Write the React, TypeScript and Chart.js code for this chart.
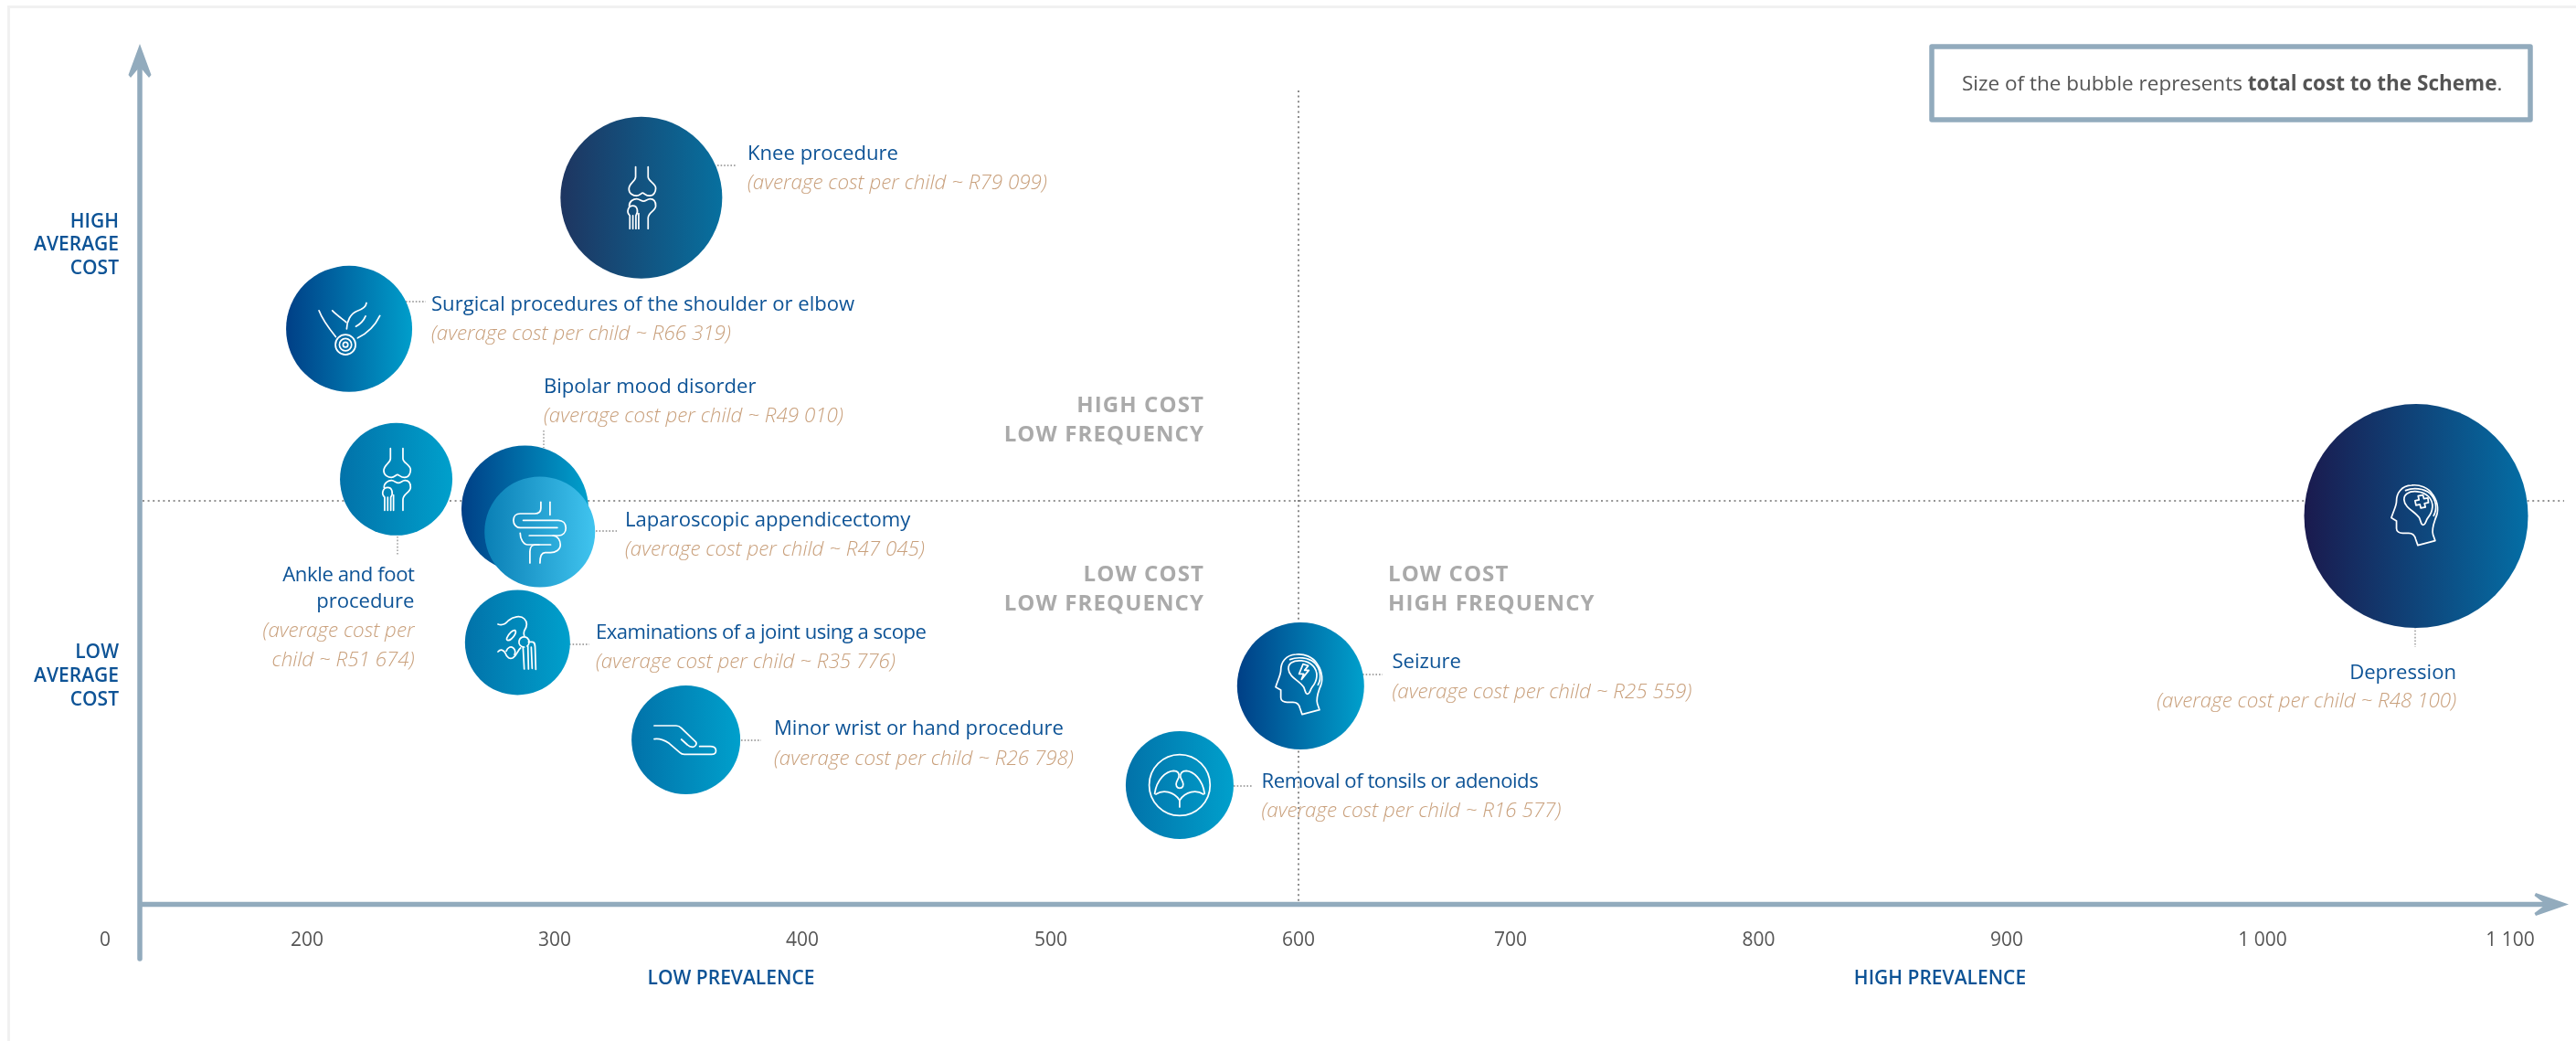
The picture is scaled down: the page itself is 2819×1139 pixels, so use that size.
import React, { useEffect, useRef } from "react";
import { Chart, LinearScale, BubbleController, PointElement } from "chart.js";

// ---- data ----
const procedures = [
  "Knee procedure",
  "Surgical procedures of the shoulder or elbow",
  "Ankle and foot procedure",
  "Bipolar mood disorder",
  "Laparoscopic appendicectomy",
  "Examinations of a joint using a scope",
  "Minor wrist or hand procedure",
  "Seizure",
  "Removal of tonsils or adenoids",
  "Depression",
];
const costTexts = ["R79 099", "R66 319", "R51 674", "R49 010", "R47 045", "R35 776", "R26 798", "R25 559", "R16 577", "R48 100"];
const prevalence = [335, 217, 236, 288, 294, 285, 353, 601, 552, 1062];
const averageCost = [79099, 66319, 51674, 48770, 46545, 35776, 26298, 31548, 21892, 48100];
const bubbleRadius = [88.5, 69, 61.5, 69.5, 60.5, 57.5, 59.5, 69.5, 59, 122.5];
const xTickValues = [0, 200, 300, 400, 500, 600, 700, 800, 900, 1000, 1100];
const medianPrevalence = 600;
const medianCost = 49571;

// ---- layout ----
const W = 2819;
const H = 1139;
const AXIS_Y = 989.5;
const AXIS_X = 153;
const Y_MIN = 35776 - (AXIS_Y - 703) * 89;
const Y_MAX = 35776 + 703 * 89;
const X_TICK_PIXELS = [115, 336, 607, 878, 1150, 1421, 1653, 1924.5, 2196, 2476, 2747];

const AXIS_COLOR = "#92abbd";
const NAME_COLOR = "#0d5396";
const COST_COLOR = "#c9a07c";
const GREY_TEXT = "#aaaaaa";
const BODY_TEXT = "#555555";
const FONT = '"Open Sans"';

const gradients: [string, string][] = [
  ["#1e3560", "#07709f"],
  ["#003f86", "#009ecb"],
  ["#0272a9", "#00a0cc"],
  ["#003f86", "#00a0cc"],
  ["#0a7fb5", "#40c4ef"],
  ["#0272a9", "#00a0cc"],
  ["#0272a9", "#00a0cc"],
  ["#003f86", "#00a0cc"],
  ["#0272a9", "#00a0cc"],
  ["#1a1a4e", "#046ea5"],
];

type TextBlock = { align: CanvasTextAlign; x: number; lines: { t: string; y: number; cost?: boolean; ls?: number }[] };
const cost = (i: number) => `(average cost per child ~ ${costTexts[i]})`;
const textBlocks: TextBlock[] = [
  { align: "left", x: 818, lines: [{ t: procedures[0], y: 169 }, { t: cost(0), y: 201, cost: true }] },
  { align: "left", x: 472, lines: [{ t: procedures[1], y: 334 }, { t: cost(1), y: 366, cost: true }] },
  { align: "right", x: 453.5, lines: [{ t: "Ankle and foot", y: 630, ls: -0.4 }, { t: "procedure", y: 659 }, { t: "(average cost per", y: 691, cost: true }, { t: `child ~ ${costTexts[2]})`, y: 723, cost: true }] },
  { align: "left", x: 595, lines: [{ t: procedures[3], y: 424 }, { t: cost(3), y: 456, cost: true }] },
  { align: "left", x: 684, lines: [{ t: procedures[4], y: 570 }, { t: cost(4), y: 602, cost: true }] },
  { align: "left", x: 652, lines: [{ t: procedures[5], y: 693, ls: -0.5 }, { t: cost(5), y: 725, cost: true }] },
  { align: "left", x: 847, lines: [{ t: procedures[6], y: 798 }, { t: cost(6), y: 830.5, cost: true }] },
  { align: "left", x: 1523.5, lines: [{ t: procedures[7], y: 725 }, { t: cost(7), y: 758, cost: true }] },
  { align: "left", x: 1380.5, lines: [{ t: procedures[8], y: 855.5, ls: -0.45 }, { t: cost(8), y: 888, cost: true }] },
  { align: "right", x: 2688, lines: [{ t: procedures[9], y: 736.5 }, { t: cost(9), y: 768, cost: true }] },
];

const leaders = [
  [785, 181, 805, 181],
  [444, 330, 466, 330],
  [435, 587, 435, 607],
  [595, 471, 595, 490],
  [652, 581, 675, 581],
  [623, 705, 645, 705],
  [811, 810, 833, 810],
  [1491, 738, 1513, 738],
  [1350, 860, 1371, 860],
  [2643, 686, 2643, 708],
];

// ---- icons, written in 3x crop units about the crop's corner ----
const KNEE = [
  "M142 52 V85 C142 100 120 105 120 125 C120 140 135 147 145 147 C155 147 160 138 165 138 C170 138 175 147 188 147 C203 147 208 132 208 122 C208 105 183 100 183 85 V52",
  "M121 180 C121 165 135 157 145 157 C155 157 160 165 168 165 C176 165 180 157 190 157 C205 157 208 170 208 180 C208 197 183 200 183 220 V255",
  "M123 255 V212 C110 200 118 180 133 180 C148 180 152 200 143 212 V255",
  "M133 212 V255",
  "M152 205 V255",
];
const SHOULDER = [
  "M51 90 C62 120 85 150 106 176",
  "M95 90 C110 105 128 118 140 128",
  "M142 150 C142 125 155 100 175 92 C192 87 205 80 207 65",
  "M172 142 C185 135 198 122 204 108",
  "M178 180 C210 165 235 140 251 107",
  "M171 202 A33 33 0 1 1 105 202 A33 33 0 1 1 171 202",
  "M158 202 A20 20 0 1 1 118 202 A20 20 0 1 1 158 202",
  "M146 202 A8 8 0 1 1 130 202 A8 8 0 1 1 146 202",
];
const INTESTINE = [
  "M158 58 V78 C158 90 150 96 138 96 H90 C76 96 68 106 68 118 C68 130 76 142 90 142 H212",
  "M188 58 V100",
  "M100 118 H215 C230 118 240 128 240 143 C240 158 230 168 215 168 H120",
  "M90 160 C90 178 100 198 115 198 H190",
  "M152 198 H140 C128 198 122 208 122 220 V258",
  "M198 168 C215 170 222 185 222 198 C222 215 205 224 190 224 H172 C160 224 155 235 155 258",
];
const HIP = [
  "M86 90 C100 95 110 90 120 78 C135 65 160 60 172 72 C185 85 180 100 172 112 C170 118 170 122 172 128",
  "M115 135 C122 120 135 108 142 110 C148 115 140 130 130 138 C122 145 112 145 115 135",
  "M172 165 C160 165 153 155 155 145 C158 132 172 128 182 135 C190 142 190 155 182 162",
  "M168 165 L172 237 M184 162 L186 237",
  "M186 148 H198 C208 148 208 160 208 175 L210 238",
  "M195 165 L198 235",
  "M86 180 C95 170 105 175 110 185 C115 200 125 205 135 200 C150 190 150 175 160 168",
  "M113 178 C118 165 128 162 136 168 C144 174 143 185 140 190",
];
const HAND = [
  "M46 102 H118 C125 102 130 105 135 110 L182 155 C188 162 180 172 172 172 C165 172 160 170 155 165 L135 147",
  "M46 146 C65 143 80 150 95 160 L130 190 C135 195 140 196 145 196 H235 C247 196 250 188 248 180 C246 172 240 170 230 170 H195",
];
const HEAD = [
  "M155 245 L212 230 L205 210 C200 195 205 180 212 160 C225 135 222 105 205 80 C190 55 160 45 135 48 C100 50 85 75 85 100 C85 115 78 125 68 155 L85 165 L85 190 C85 200 95 205 105 205 H125 C135 205 145 212 148 225 Z",
  "M120 75 C105 85 108 105 120 118 C130 130 150 140 160 155 C165 165 165 178 172 178 C182 178 180 165 188 155 C205 135 210 105 190 85 C170 65 135 65 120 75",
  "M115 65 C140 55 175 58 195 75 C215 95 220 125 207 148",
];
const BOLT = ["M158 80 L145 112 H160 L153 130 L177 100 H163 L175 85 Z"];
const CROSS = ["M156 83 L172 80 L175 92 L188 90 L190 105 L177 108 L180 120 L165 123 L162 111 L149 114 L146 99 L159 96 Z"];
const TONSILS = [
  "M250 150 A100 100 0 1 1 50 150 A100 100 0 1 1 250 150",
  "M68 178 C75 130 105 105 130 103 C145 103 150 112 147 125 L140 140 C135 152 142 160 150 160 C160 160 165 152 160 140 L153 125 C150 112 158 103 172 103 C195 105 225 130 232 178",
  "M72 180 C95 165 130 170 150 200 C170 170 205 165 228 180",
  "M150 200 V222",
];
const icons = [KNEE, SHOULDER, KNEE, null, INTESTINE, HIP, HAND, [...HEAD, ...BOLT], TONSILS, [...HEAD, ...CROSS]];
const iconOffset: [number, number][] = [
  [-53.6, -51], [-50, -50], [-53.6, -51], [0, 0], [-51.5, -52], [-50, -50], [-50, -49.5], [-50, -50.5], [-50, -50], [-49.8, -49.6],
];

// ---- scale whose printed ticks are spaced as the picture prints them ----
class PrintedTickScale extends (LinearScale as any) {
  static id = "printedTick";
  static defaults = (LinearScale as any).defaults;
  buildTicks() {
    return xTickValues.map((value) => ({ value }));
  }
  getPixelForValue(v: number) {
    let i = 0;
    while (i < xTickValues.length - 2 && v > xTickValues[i + 1]) i++;
    const f = (v - xTickValues[i]) / (xTickValues[i + 1] - xTickValues[i]);
    const px = X_TICK_PIXELS[i] + f * (X_TICK_PIXELS[i + 1] - X_TICK_PIXELS[i]);
    return (this as any)._startPixel + (px / W) * (this as any)._length;
  }
}

Chart.register(LinearScale, BubbleController, PointElement, PrintedTickScale as any);

function arrow(ctx: CanvasRenderingContext2D, pts: [number, number][]) {
  ctx.beginPath();
  pts.forEach(([x, y], i) => (i ? ctx.lineTo(x, y) : ctx.moveTo(x, y)));
  ctx.closePath();
  ctx.fill();
}

const backdrop = {
  id: "backdrop",
  beforeDatasetsDraw(chart: any) {
    const ctx: CanvasRenderingContext2D = chart.ctx;
    const { x, y } = chart.scales;
    ctx.save();
    // page frame
    ctx.fillStyle = "#f1f1f1";
    ctx.fillRect(8, 6, W - 8, 3);
    ctx.fillRect(8, 6, 3, H - 6);

    // quadrant lines
    ctx.strokeStyle = "#707070";
    ctx.lineWidth = 1.6;
    ctx.setLineDash([2, 3.6]);
    const mx = x.getPixelForValue(medianPrevalence);
    const my = y.getPixelForValue(medianCost);
    ctx.beginPath();
    ctx.moveTo(AXIS_X + 3, my);
    ctx.lineTo(2806, my);
    ctx.moveTo(mx, 99);
    ctx.lineTo(mx, AXIS_Y - 3);
    ctx.stroke();

    // leaders
    ctx.strokeStyle = "#8c8c8c";
    ctx.lineWidth = 1.3;
    ctx.setLineDash([1.6, 2]);
    leaders.forEach(([a, b, c, d]) => {
      ctx.beginPath();
      ctx.moveTo(a, b);
      ctx.lineTo(c, d);
      ctx.stroke();
    });
    ctx.setLineDash([]);

    // axes with arrow heads
    ctx.strokeStyle = AXIS_COLOR;
    ctx.fillStyle = AXIS_COLOR;
    ctx.lineWidth = 5.5;
    ctx.lineCap = "round";
    ctx.beginPath();
    ctx.moveTo(AXIS_X, 1049);
    ctx.lineTo(AXIS_X, 60);
    ctx.moveTo(AXIS_X, AXIS_Y);
    ctx.lineTo(2790, AXIS_Y);
    ctx.stroke();
    ctx.lineCap = "butt";
    arrow(ctx, [[AXIS_X, 48], [165.5, 82], [163, 85], [AXIS_X, 73], [143, 85], [140.5, 82]]);
    arrow(ctx, [[2811, AXIS_Y], [2775, 1002], [2773.5, 999], [2786, AXIS_Y], [2773.5, 980], [2775, 977]]);
    ctx.restore();
  },
};

const overlay = {
  id: "overlay",
  afterDatasetsDraw(chart: any) {
    const ctx: CanvasRenderingContext2D = chart.ctx;
    const { x, y } = chart.scales;
    ctx.save();

    // icons
    ctx.strokeStyle = "#ffffff";
    ctx.lineWidth = 5.2;
    ctx.lineCap = "round";
    ctx.lineJoin = "round";
    icons.forEach((icon, i) => {
      if (!icon) return;
      ctx.save();
      ctx.translate(x.getPixelForValue(prevalence[i]) + iconOffset[i][0], y.getPixelForValue(averageCost[i]) + iconOffset[i][1]);
      ctx.scale(1 / 3, 1 / 3);
      icon.forEach((d) => ctx.stroke(new Path2D(d)));
      ctx.restore();
    });

    // point labels
    ctx.textBaseline = "middle";
    textBlocks.forEach((b) => {
      ctx.textAlign = b.align;
      b.lines.forEach((l) => {
        ctx.font = l.cost ? `italic 300 22.4px ${FONT}` : `400 22.1px ${FONT}`;
        ctx.fillStyle = l.cost ? COST_COLOR : NAME_COLOR;
        (ctx as any).letterSpacing = `${l.ls ?? 0}px`;
        ctx.fillText(l.t, b.x, l.y);
      });
    });
    (ctx as any).letterSpacing = "0px";

    // axis captions
    ctx.font = `600 21px ${FONT}`;
    ctx.fillStyle = NAME_COLOR;
    ctx.textAlign = "right";
    [["HIGH", 243], ["AVERAGE", 268.5], ["COST", 294], ["LOW", 714.5], ["AVERAGE", 740.5], ["COST", 766.5]].forEach(([t, yy]) =>
      ctx.fillText(t as string, 130, yy as number)
    );
    ctx.textAlign = "center";
    ctx.fillText("LOW PREVALENCE", 800, 1071);
    ctx.fillText("HIGH PREVALENCE", 2123, 1071);

    // quadrant captions
    ctx.font = `700 24px ${FONT}`;
    ctx.fillStyle = GREY_TEXT;
    (ctx as any).letterSpacing = "1.1px";
    ctx.textAlign = "right";
    [["HIGH COST", 444.5], ["LOW FREQUENCY", 476.5], ["LOW COST", 629.5], ["LOW FREQUENCY", 661]].forEach(([t, yy]) =>
      ctx.fillText(t as string, 1318, yy as number)
    );
    ctx.textAlign = "left";
    ctx.fillText("LOW COST", 1519, 629.5);
    ctx.fillText("HIGH FREQUENCY", 1519, 661);
    (ctx as any).letterSpacing = "0px";

    // key box
    ctx.strokeStyle = AXIS_COLOR;
    ctx.lineWidth = 5.5;
    ctx.strokeRect(2114, 51, 655, 80);
    ctx.fillStyle = BODY_TEXT;
    let cx = 2147;
    ctx.font = `400 22.5px ${FONT}`;
    const a = "Size of the bubble represents ";
    ctx.fillText(a, cx, 92.5);
    cx += ctx.measureText(a).width;
    ctx.font = `700 22.5px ${FONT}`;
    const b = "total cost to the Scheme";
    ctx.fillText(b, cx, 92.5);
    cx += ctx.measureText(b).width;
    ctx.font = `400 22.5px ${FONT}`;
    ctx.fillText(".", cx, 92.5);
    ctx.restore();
  },
};

export default function App() {
  const ref = useRef<HTMLCanvasElement>(null);
  useEffect(() => {
    document.body.style.margin = "0";
    document.body.style.background = "#ffffff";
    const chart = new Chart(ref.current as HTMLCanvasElement, {
      type: "bubble",
      data: {
        datasets: [
          {
            label: "Procedures",
            data: prevalence.map((p, i) => ({ x: p, y: averageCost[i], r: bubbleRadius[i] })),
            borderWidth: 0,
            clip: false,
            backgroundColor: (c: any) => {
              const i = c.dataIndex;
              const sx = c.chart.scales.x;
              if (i === undefined || !sx) return gradients[0][0];
              const px = sx.getPixelForValue(prevalence[i]);
              if (!Number.isFinite(px)) return gradients[i][0];
              const g = c.chart.ctx.createLinearGradient(px - bubbleRadius[i], 0, px + bubbleRadius[i], 0);
              g.addColorStop(0, gradients[i][0]);
              g.addColorStop(1, gradients[i][1]);
              return g;
            },
          } as any,
        ],
      },
      options: {
        animation: false,
        responsive: false,
        devicePixelRatio: 1,
        layout: { padding: 0, autoPadding: false },
        events: [],
        plugins: { legend: { display: false }, tooltip: { enabled: false } },
        scales: {
          x: {
            type: "printedTick" as any,
            min: 0,
            max: 1100,
            grid: { display: false, drawTicks: false },
            border: { display: false },
            ticks: {
              autoSkip: false,
              maxRotation: 0,
              padding: 27,
              font: { family: "Open Sans", size: 21 },
              color: BODY_TEXT,
              callback: (v: any) => String(v).replace(/\B(?=(\d{3})+$)/g, " "),
            },
            afterFit: (s: any) => {
              s.height = H - AXIS_Y;
            },
          },
          y: { type: "linear", display: false, min: Y_MIN, max: Y_MAX },
        },
      },
      plugins: [backdrop, overlay],
    } as any);
    return () => chart.destroy();
  }, []);
  return (
    <div style={{ width: W, height: H }}>
      <canvas ref={ref} width={W} height={H} style={{ display: "block" }} />
    </div>
  );
}
